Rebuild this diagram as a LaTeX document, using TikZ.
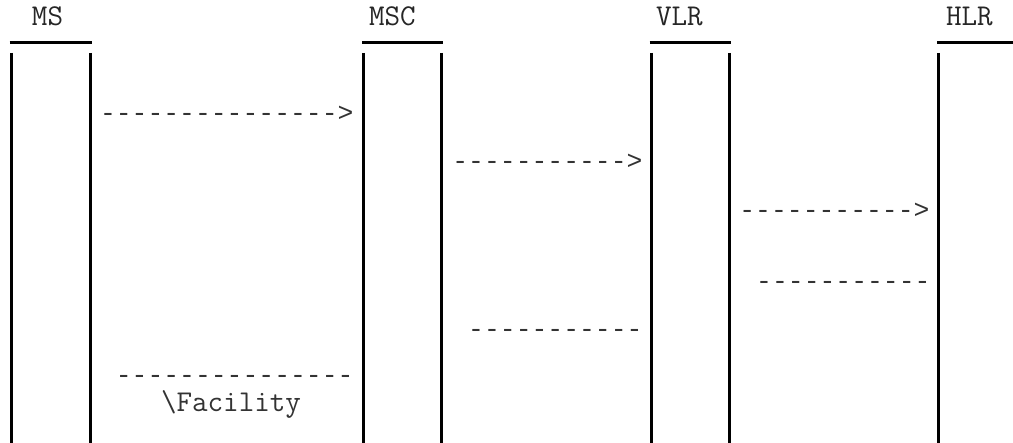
\documentclass[tikz,border=0pt]{standalone}
\usepackage{fontspec}
\newfontfamily\guiones{Liberation Mono}
\begin{document}
\begin{tikzpicture}[x=0.5pt, y=-0.5pt, every node/.style={font=\ttfamily\fontsize{15.1}{17}\selectfont, inner sep=0pt, outer sep=0pt}]

% Estilos del diagrama de secuencia
\tikzset{
    barra/.style={draw=black, line width=1.5pt},
    cabecera/.style={anchor=base west, text=black!85},
    mensaje/.style={anchor=base east, text=black!80, font=\guiones\fontsize{13.2}{15}\selectfont}
}

\useasboundingbox (0,0) rectangle (1013,443);
\clip (0,0) rectangle (1013,443);

% =============================================
% ENTIDADES: MS, MSC, VLR, HLR
% =============================================
\foreach \nombre/\izq/\der/\tx/\etiqueta in {ms/11/90.5/32/MS, msc/363.5/441.5/369/MSC, vlr/651/729.5/656/VLR, hlr/938.5/1017/946/HLR} {
    \node[cabecera] (\nombre) at (\tx, 26) {\etiqueta};
    % Subrayado de la cabecera
    \draw[barra] (\izq-1.5, 43) -- (\der+1.5, 43);
    % Lineas de vida (dos barras)
    \draw[barra] (\izq, 53) -- (\izq, 443);
    \draw[barra] (\der, 53) -- (\der, 443);
}

% =============================================
% MENSAJES (texto en ASCII)
% =============================================
\node[mensaje] (m1) at (353.5, 122) {--------------->};
\node[mensaje] (m2) at (642.5, 170) {----------->};
\node[mensaje] (m3) at (929.5, 219) {----------->};
\node[mensaje] (m4) at (930.5, 290) {-----------};
\node[mensaje] (m5) at (642.5, 338) {-----------};
\node[mensaje] (m6) at (353.5, 384) {---------------};
\node[anchor=base west, text=black!80] (fac) at (161, 412) {\textbackslash Facility};

\end{tikzpicture}
\end{document}
